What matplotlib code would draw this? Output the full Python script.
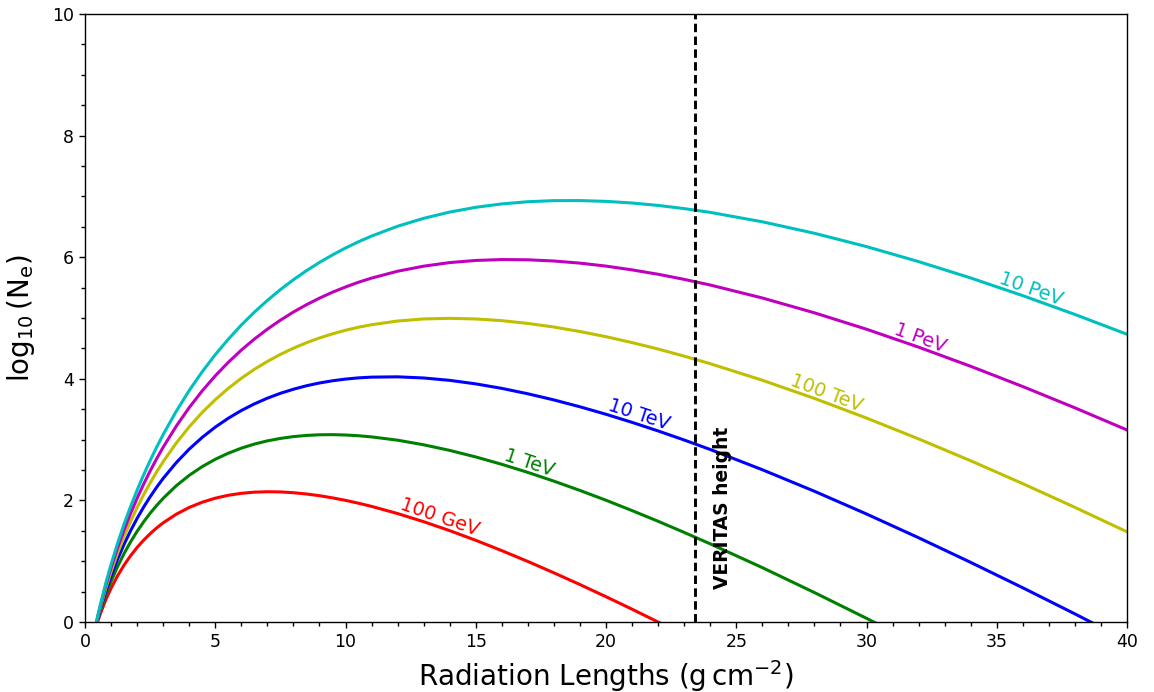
import numpy as np
import matplotlib
matplotlib.use('Agg')
import matplotlib.pyplot as plt
from matplotlib.ticker import MultipleLocator

# radiation length grid (g cm^-2) and log10(Ne)
depth = [0.4, 0.5, 0.6, 0.8, 1.0, 1.25, 1.5, 1.75,
         2.0, 2.25, 2.5, 2.75, 3.0, 3.5, 4.0,
         4.5, 5.0, 5.5, 6.0, 6.5, 7.0, 7.5, 8.0, 8.5, 9.0, 9.5, 10.0, 10.5,
         11, 12, 13, 14, 15, 16, 17, 18, 19, 20, 21, 22, 23, 24,
         26, 28, 30, 32, 34, 36, 38, 40]

ne_100gev = [-0.110, 0.026, 0.149, 0.368, 0.556, 0.760, 0.937, 1.091,
             1.226, 1.346, 1.452, 1.547, 1.631, 1.772, 1.884,
             1.970, 2.036, 2.084, 2.116, 2.135, 2.142, 2.139, 2.126, 2.105, 2.077, 2.041, 2.000, 1.953,
             1.901, 1.783, 1.649, 1.502, 1.343, 1.173, 0.995, 0.808, 0.615, 0.415, 0.210, -0.001,
             -0.216, -0.435]
ne_1tev = [-0.099, 0.054, 0.194, 0.446, 0.668, 0.912, 1.127, 1.319,
           1.492, 1.647, 1.789, 1.917, 2.034, 2.240, 2.412,
           2.556, 2.676, 2.776, 2.859, 2.926, 2.979, 3.019, 3.049, 3.068, 3.079, 3.081, 3.075, 3.063,
           3.044, 2.990, 2.914, 2.822, 2.714, 2.593, 2.460, 2.316, 2.163, 2.002, 1.832, 1.656,
           1.473, 1.285,
           0.894, 0.484, 0.060, -0.377]
ne_10tev = [-0.091, 0.076, 0.230, 0.509, 0.757, 1.033, 1.280, 1.502,
            1.705, 1.890, 2.060, 2.217, 2.362, 2.620, 2.844,
            3.037, 3.205, 3.351, 3.478, 3.587, 3.681, 3.761, 3.828, 3.885, 3.931, 3.967, 3.995, 4.015,
            4.027, 4.032, 4.013, 3.974, 3.916, 3.842, 3.753, 3.652, 3.539, 3.416, 3.283, 3.142,
            2.993, 2.837,
            2.504, 2.150, 1.776, 1.385, 0.980, 0.562, 0.133, -0.307]
ne_100tev = [-0.084, 0.095, 0.260, 0.561, 0.830, 1.134, 1.407, 1.655,
             1.883, 2.093, 2.288, 2.469, 2.637, 2.942, 3.210,
             3.447, 3.656, 3.842, 4.008, 4.155, 4.285, 4.401, 4.503, 4.593, 4.671, 4.739, 4.798, 4.848,
             4.889, 4.950, 4.984, 4.994, 4.984, 4.956, 4.910, 4.851, 4.777, 4.692, 4.595, 4.489,
             4.372, 4.248,
             3.976, 3.677, 3.354, 3.011, 2.651, 2.275, 1.885, 1.483]
ne_1pev = [-0.077, 0.110, 0.285, 0.605, 0.893, 1.220, 1.515, 1.786,
           2.036, 2.268, 2.484, 2.686, 2.875, 3.220, 3.527,
           3.802, 4.049, 4.271, 4.472, 4.653, 4.816, 4.964, 5.098, 5.218, 5.326, 5.424, 5.510, 5.588,
           5.656, 5.769, 5.852, 5.911, 5.946, 5.961, 5.957, 5.937, 5.902, 5.853, 5.791, 5.719,
           5.635, 5.542,
           5.329, 5.085, 4.815, 4.520, 4.205, 3.872, 3.522, 3.158]
ne_10pev = [-0.072, 0.124, 0.307, 0.644, 0.948, 1.295, 1.611, 1.901,
            2.170, 2.421, 2.656, 2.876, 3.084, 3.465, 3.808,
            4.117, 4.397, 4.651, 4.884, 5.096, 5.289, 5.467, 5.629, 5.778, 5.914, 6.037, 6.151, 6.254,
            6.347, 6.509, 6.639, 6.742, 6.820, 6.876, 6.912, 6.930, 6.931, 6.918, 6.891, 6.851,
            6.799, 6.737,
            6.582, 6.393, 6.174, 5.927, 5.658, 5.367, 5.058, 4.732]

labels = ['100 GeV', '1 TeV', '10 TeV', '100 TeV', '1 PeV', '10 PeV']
series = [ne_100gev, ne_1tev, ne_10tev, ne_100tev, ne_1pev, ne_10pev]
colors = ['r', 'g', 'b', 'y', 'm', 'c']
label_x = [13.5, 16.95, 21.15, 28.35, 31.95, 36.2]

veritas_depth = 23.42

fig = plt.figure(figsize=(11.54, 6.92), dpi=100)
ax = fig.add_axes([0.0737, 0.1012, 0.9029, 0.8786])

for vals, c in zip(series, colors):
    ax.plot(depth[:len(vals)], vals, color=c, lw=2.2)

ax.axvline(veritas_depth, color='k', ls='--', lw=2.1, dashes=(2.9, 1.5))
ax.text(veritas_depth + 1.05, 0.55, 'VERITAS height', rotation=90, fontsize=13.4,
        fontweight='bold', ha='center', va='bottom')

ax.set_xlim(0, 40)
ax.set_ylim(0, 10)
ax.xaxis.set_major_locator(MultipleLocator(5))
ax.xaxis.set_minor_locator(MultipleLocator(1))
ax.yaxis.set_major_locator(MultipleLocator(2))
ax.yaxis.set_minor_locator(MultipleLocator(0.5))
ax.tick_params(which='major', length=4.5, width=1.0, labelsize=12.5)
ax.tick_params(which='minor', length=2.6, width=1.0)
for sp in ax.spines.values():
    sp.set_linewidth(1.0)

ax.set_xlabel(r'Radiation Lengths $(\mathrm{g\,cm^{-2}})$', fontsize=20, labelpad=5)
ax.set_ylabel(r'$\log_{10}(\mathrm{N_e})$', fontsize=20, labelpad=11)

# labels sitting on the curves, rotated to the local slope
for vals, c, lab, lx in zip(series, colors, labels, label_x):
    xs = np.array(depth[:len(vals)])
    ys = np.array(vals)
    ly = np.interp(lx, xs, ys)
    ly2 = np.interp(lx + 0.5, xs, ys)
    p1 = ax.transData.transform((lx, ly))
    p2 = ax.transData.transform((lx + 0.5, ly2))
    ang = np.degrees(np.arctan2(p2[1] - p1[1], p2[0] - p1[0]))
    ax.text(lx, ly, lab, color=c, fontsize=13.8, rotation=ang, rotation_mode='anchor',
            ha='center', va='bottom')

fig.savefig('out.png', dpi=100)
